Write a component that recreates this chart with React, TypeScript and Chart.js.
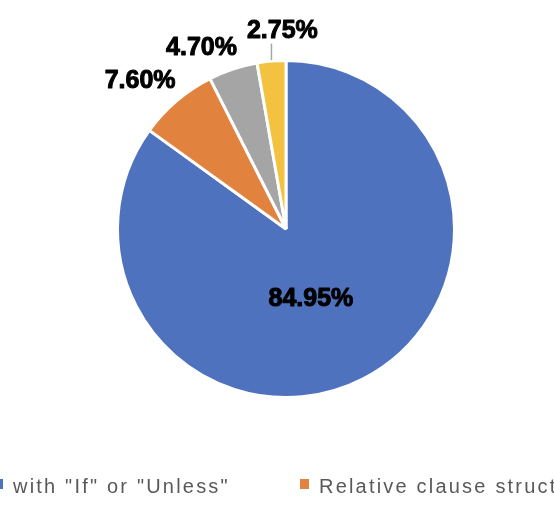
import React, { useEffect, useRef } from "react";
import { Chart, registerables } from "chart.js";

Chart.register(...registerables);

const categories = [
  'with "If" or "Unless"',
  "Relative clause structure",
  "Inversion structure",
  "Other structures",
];
const shares = [84.95, 7.6, 4.7, 2.75];
const sliceColors = ["#4F72BE", "#E2823F", "#A5A5A5", "#F3C240"];

const LABEL_FONT = '"Liberation Sans", Arial, sans-serif';

const sliceLabelPlugin = {
  id: "sliceLabels",
  afterDatasetsDraw(chart: any) {
    const ctx = chart.ctx as CanvasRenderingContext2D;
    const meta = chart.getDatasetMeta(0);
    const boxes: any[] = [];
    meta.data.forEach((arc: any, i: number) => {
      const p = arc.getProps(["x", "y", "startAngle", "endAngle", "outerRadius"], true);
      const mid = (p.startAngle + p.endAngle) / 2;
      const cos = Math.cos(mid);
      const sin = Math.sin(mid);
      const text = shares[i].toFixed(2) + "%";
      const inside = p.endAngle - p.startAngle > Math.PI / 2;
      const size = 25;
      ctx.font = `bold ${size}px ${LABEL_FONT}`;
      const w = ctx.measureText(text).width;
      const h = size * 0.78;
      let cx: number, cy: number;
      if (inside) {
        const ang = mid + 0.13;
        cx = p.x + Math.cos(ang) * p.outerRadius * 0.44;
        cy = p.y + Math.sin(ang) * p.outerRadius * 0.44;
      } else {
        const r = p.outerRadius + 16;
        cx = p.x + cos * r + (cos * w) / 2 - 3;
        cy = p.y + sin * r + (sin * h) / 2;
      }
      boxes.push({
        text, size, w, h, cx, cy, inside, leader: false,
        ax: p.x + cos * p.outerRadius,
        ay: p.y + sin * p.outerRadius,
      });
    });
    const outs = boxes.filter((b) => !b.inside);
    for (let k = 1; k < outs.length; k++) {
      const a = outs[k - 1];
      const b = outs[k];
      const vOverlap = Math.abs(a.cy - b.cy) < (a.h + b.h) / 2 + 4;
      const need = a.cx + a.w / 2 + 10 - (b.cx - b.w / 2);
      if (vOverlap && need > 0) {
        a.cx -= need * 0.4;
        a.cy += need * 0.12;
        b.cx += need * 0.6;
        b.cy -= need * 0.15;
        b.leader = true;
      }
    }
    ctx.save();
    boxes.forEach((b) => {
      if (b.leader) {
        const bottom = b.cy + b.h / 2;
        ctx.strokeStyle = "#A6A6A6";
        ctx.lineWidth = 1.5;
        ctx.beginPath();
        ctx.moveTo(b.ax, b.ay - 1);
        ctx.lineTo(b.ax, bottom + 3);
        ctx.stroke();
      }
      ctx.font = `bold ${b.size}px ${LABEL_FONT}`;
      ctx.fillStyle = "#000000";
      ctx.strokeStyle = "#000000";
      ctx.lineWidth = 1;
      ctx.lineJoin = "round";
      ctx.textAlign = "center";
      ctx.textBaseline = "middle";
      ctx.fillText(b.text, b.cx, b.cy);
      ctx.strokeText(b.text, b.cx, b.cy);
    });
    ctx.restore();
  },
};

const edgeLegendPlugin = {
  id: "edgeLegend",
  afterDraw(chart: any) {
    const ctx = chart.ctx as CanvasRenderingContext2D;
    ctx.save();
    ctx.font = `20px ${LABEL_FONT}`;
    (ctx as any).letterSpacing = "2.2px";
    ctx.textAlign = "left";
    ctx.textBaseline = "alphabetic";
    const startX = -6;
    const pitch = 306;
    categories.forEach((c, i) => {
      const bx = startX + i * pitch;
      ctx.fillStyle = sliceColors[i];
      ctx.fillRect(bx, 479, 9, 10);
      ctx.fillStyle = "#595959";
      ctx.fillText(c, bx + 19, 493);
    });
    ctx.restore();
  },
};

export default function App() {
  const ref = useRef<HTMLCanvasElement | null>(null);
  useEffect(() => {
    if (!ref.current) return;
    const chart = new Chart(ref.current, {
      type: "pie",
      data: {
        labels: categories,
        datasets: [
          {
            data: shares,
            backgroundColor: sliceColors,
            borderColor: "#FFFFFF",
            borderWidth: 3,
          },
        ],
      },
      options: {
        animation: false,
        responsive: false,
        layout: { padding: { left: 116, right: 98, top: 59, bottom: 109 } },
        plugins: {
          legend: { display: false },
          tooltip: { enabled: false },
          title: { display: false },
        },
      },
      plugins: [sliceLabelPlugin, edgeLegendPlugin],
    });
    return () => chart.destroy();
  }, []);
  return (
    <div style={{ position: "fixed", left: 0, top: 0, width: 554, height: 508, background: "#fff" }}>
      <canvas ref={ref} width={554} height={508} style={{ display: "block" }} />
    </div>
  );
}
